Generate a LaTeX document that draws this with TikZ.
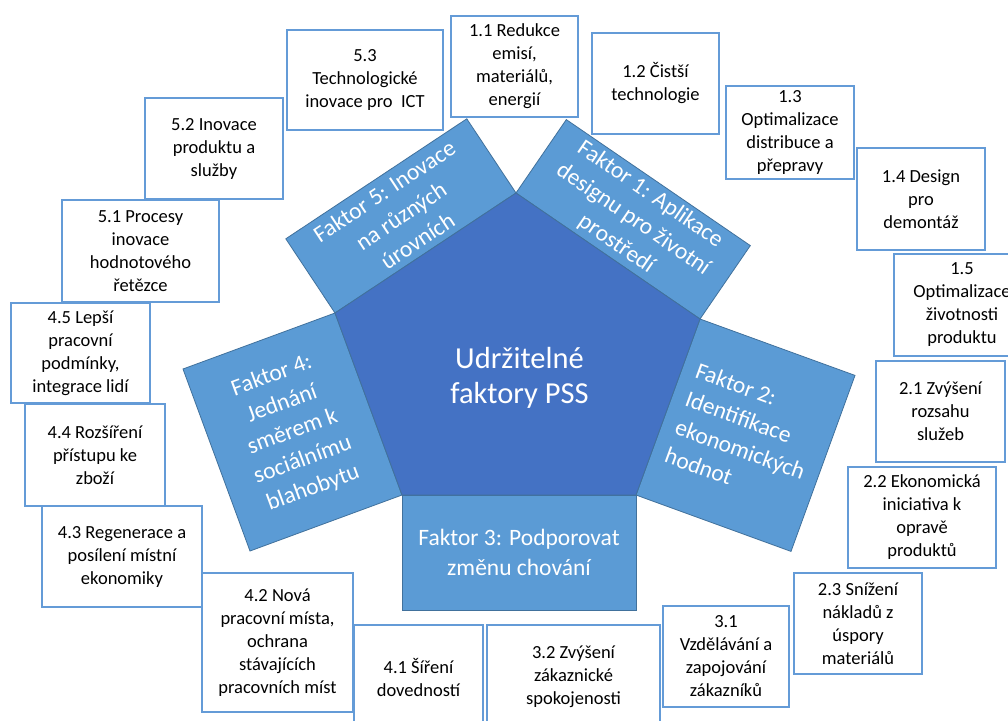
\documentclass[tikz,border=0pt]{standalone}
\usepackage{fontspec}
\setmainfont{Carlito}
\usetikzlibrary{calc}
\definecolor{penta}{RGB}{68,114,196}
\definecolor{fak}{RGB}{91,155,213}
\definecolor{fakline}{RGB}{65,113,156}
\definecolor{boxline}{RGB}{100,155,215}
\newcommand\pbox[6]{%
  \node[sbox, minimum width={#4-#2}, minimum height={#5-#3}] (#1) at ({(#2+#4)/2},{(#3+#5)/2}) {#6};}
\begin{document}
\begin{tikzpicture}[x=1pt,y=-1pt,
  sbox/.style={draw=boxline, line width=1.6pt, fill=white, align=center,
    font=\fontsize{18.5}{23}\selectfont, inner sep=0pt, text=black},
  fshape/.style={fill=fak, draw=fakline, line width=0.8pt, line join=miter},
  ftext/.style={text=white, font=\fontsize{23.5}{30}\selectfont, align=center, inner sep=0pt},
  ctext/.style={text=white, font=\fontsize{30.5}{35.5}\selectfont, align=center, inner sep=0pt}]
\useasboundingbox (0,0) rectangle (1008,720);
\clip (0,0) rectangle (1008,720);
\fill[white] (0,0) rectangle (1008,720);

% pentagon vertices
\coordinate (T) at (516,193);
\coordinate (L) at (335,313);
\coordinate (R) at (700,319);
\coordinate (BL) at (402,495);
\coordinate (BR) at (636,495);

% factor shapes
\draw[fshape] (T) -- (R) -- ++(50.3,-73.4) -- ++(-184,-126) -- cycle;
\draw[fshape] (L) -- (T) -- ++(-49.2,-74.2) -- ++(-181,120) -- cycle;
\draw[fshape] (R) -- (BR) -- ++(155,56.4) -- ++(64,-176) -- cycle;
\draw[fshape] (L) -- (BL) -- ++(-152,56) -- ++(-67,-182) -- cycle;
\draw[fshape] (BL) -- (BR) -- ++(0,115) -- ++(-234,0) -- cycle;

% central pentagon
\draw[fill=penta, draw=fakline, line width=0.8pt] (T) -- (R) -- (BR) -- (BL) -- (L) -- cycle;

% texts
\node[ctext] (c) at (519.5,378) {Udržitelné\\faktory PSS};
\node[ftext, rotate=-34.4] (f1) at (633.2,219.3) {Faktor 1: Aplikace\\designu pro životní\\prostředí};
\node[ftext, rotate=33.5] (f5) at (400.9,215.9) {Faktor 5: Inovace\\na různých\\úrovních};
\node[ftext, rotate=-20, align=left] (f2) at (745.5,435.2) {Faktor 2:\\Identifikace\\ekonomických\\hodnot};
\node[ftext, rotate=20.2] (f4) at (292.5,432) {Faktor 4:\\Jednání\\směrem k\\sociálnímu\\blahobytu};
\node[ftext] (f3) at (519,552.5) {Faktor 3: Podporovat\\změnu chování};

% boxes
\pbox{b53}{287}{30}{443}{130}{5.3\\Technologické\\inovace pro\ \ ICT}
\pbox{b11}{451}{16}{578}{117}{1.1 Redukce\\emisí,\\materiálů,\\energií}
\pbox{b12}{592}{33}{719}{134}{1.2 Čistší\\technologie}
\pbox{b13}{726}{86}{854}{179}{1.3\\Optimalizace\\distribuce a\\přepravy}
\pbox{b14}{857}{148}{985}{250}{1.4 Design\\pro\\demontáž}
\pbox{b15}{894}{254}{1030}{356}{1.5\\Optimalizace\\životnosti\\produktu}
\pbox{b21}{876}{361}{1005}{462}{2.1 Zvýšení\\rozsahu\\služeb}
\pbox{b22}{848}{467}{996}{568}{2.2 Ekonomická\\iniciativa k\\opravě\\produktů}
\pbox{b23}{794}{573}{922}{674}{2.3 Snížení\\nákladů z\\úspory\\materiálů}
\pbox{b31}{663}{606}{789}{707}{3.1\\Vzdělávání a\\zapojování\\zákazníků}
\pbox{b32}{487}{625}{660}{729}{3.2 Zvýšení\\zákaznické\\spokojenosti}
\pbox{b41}{354}{625}{483}{729}{4.1 Šíření\\dovedností}
\pbox{b42}{202}{573}{353}{712}{4.2 Nová\\pracovní místa,\\ochrana\\stávajících\\pracovních míst}
\pbox{b43}{42}{506}{202}{607}{4.3 Regenerace a\\posílení místní\\ekonomiky}
\pbox{b44}{25}{404}{165}{506}{4.4 Rozšíření\\přístupu ke\\zboží}
\pbox{b45}{11}{303}{150}{403}{4.5 Lepší\\pracovní\\podmínky,\\integrace lidí}
\pbox{b51}{62}{200}{219}{302}{5.1 Procesy\\inovace\\hodnotového\\řetězce}
\pbox{b52}{145}{98}{283}{199}{5.2 Inovace\\produktu a\\služby}
\end{tikzpicture}
\end{document}
